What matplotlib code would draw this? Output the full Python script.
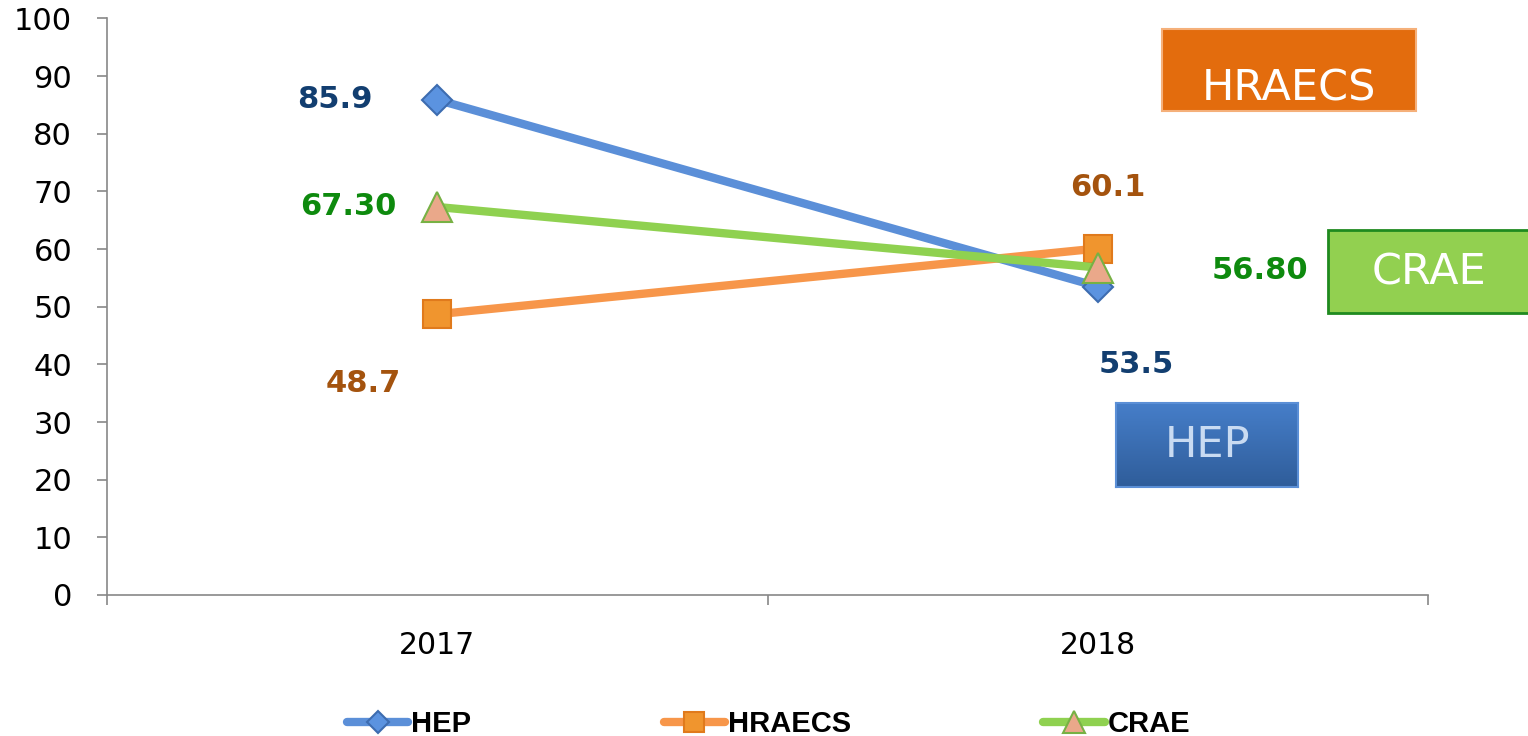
import numpy as np
import matplotlib.pyplot as plt
from matplotlib.patches import Rectangle

years = ["2017", "2018"]
series = ["HEP", "HRAECS", "CRAE"]
hep = [85.9, 53.5]
hraecs = [48.7, 60.1]
crae = [67.3, 56.8]
hep_labels = ["85.9", "53.5"]
hraecs_labels = ["48.7", "60.1"]
crae_labels = ["67.30", "56.80"]

# label offsets in points (relative to the marker)
hep_off = [(-74, 0), (28, -56)]
hraecs_off = [(-53, -50), (7, 44)]
crae_off = [(-64, 0), (117, -2)]

fig = plt.figure(figsize=(15.28, 7.36), dpi=100)
ax = fig.add_axes([0.0700, 0.1916, 0.8646, 0.7833])
ax.set_facecolor("none")

x = np.arange(len(years))
styles = [
    (hep, hep_labels, hep_off, "#5B8FD8", "D", 15, "#5B93E0", "#3D6CB0", "#123E70"),
    (hraecs, hraecs_labels, hraecs_off, "#F7964A", "s", 20, "#F0952E", "#E07A1C", "#A4530E"),
    (crae, crae_labels, crae_off, "#8FD150", "^", 21, "#EAA88A", "#77B144", "#0E8A0E"),
]
for (vals, labs, offs, lc, mk, ms, mfc, mec, tc), name in zip(styles, series):
    ax.plot(x, vals, color=lc, lw=6, marker=mk, ms=ms, mfc=mfc, mec=mec, mew=1.5,
            label=name, solid_capstyle="round")
    for xi, v, lab, off in zip(x, vals, labs, offs):
        ax.annotate(lab, (xi, v), xytext=off, textcoords="offset points",
                    ha="center", va="center", fontsize=22, fontweight="bold", color=tc)

ax.set_xlim(-0.5, 1.5)
ax.set_ylim(0, 100)
ax.set_yticks(np.arange(0, 101, 10))
ax.set_xticks([-0.5, 0.5, 1.5])
ax.set_xticklabels([])
ax.set_xticks(x, minor=True)
ax.set_xticklabels(years, minor=True)
ax.tick_params(axis="x", which="major", length=7, width=1.2, color="#888888")
ax.tick_params(axis="x", which="minor", length=0, pad=26, labelsize=21.5)
ax.tick_params(axis="y", length=7, width=1.2, color="#888888", pad=18, labelsize=22)
for s in ["top", "right"]:
    ax.spines[s].set_visible(False)
for s in ["left", "bottom"]:
    ax.spines[s].set_color("#888888")
    ax.spines[s].set_linewidth(1.2)

leg = fig.legend(loc="center", bbox_to_anchor=(0.503, 0.016), ncol=3, frameon=False,
                 handlelength=2.1, handletextpad=0.1, columnspacing=6.6,
                 markerscale=0.75, borderpad=0,
                 prop={"family": "Liberation Sans", "weight": "bold", "size": 21})

# boxes
fig.add_artist(Rectangle((0.7605, 0.8492), 0.1662, 0.1114, transform=fig.transFigure,
                         facecolor="#E36C0D", edgecolor="#F5B07A", lw=1.5))
fig.text(0.8436, 0.8804, "HRAECS", color="white", fontsize=31, ha="center", va="center")

fig.add_artist(Rectangle((0.8691, 0.5747), 0.16, 0.1128, transform=fig.transFigure,
                         facecolor="#92D050", edgecolor="#1F8A1F", lw=2))
fig.text(0.9352, 0.6304, "CRAE", color="white", fontsize=31, ha="center", va="center")

bax = fig.add_axes([0.7304, 0.3383, 0.1191, 0.1141])
grad = np.linspace(0, 1, 100).reshape(-1, 1)
top = np.array([0x46, 0x7E, 0xC9]) / 255
bot = np.array([0x2F, 0x5D, 0x9A]) / 255
img = top + grad[..., None] * (bot - top)
bax.imshow(np.repeat(img, 2, axis=1), aspect="auto", extent=[0, 1, 0, 1])
bax.set_xticks([])
bax.set_yticks([])
for s in bax.spines.values():
    s.set_color("#5B8FD6")
    s.set_linewidth(1.5)
fig.text(0.7906, 0.3954, "HEP", color="#C9DBF2", fontsize=31, ha="center", va="center")

fig.savefig("out.png", dpi=100)
